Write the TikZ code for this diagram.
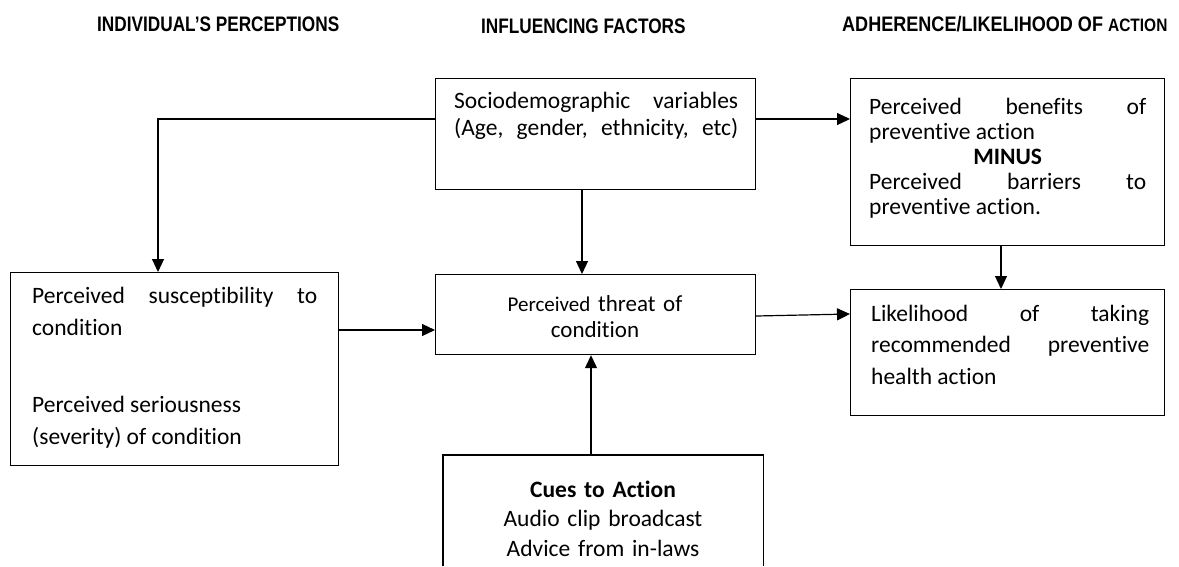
\documentclass[tikz,border=0pt]{standalone}
\usepackage{fontspec}
\setmainfont{Carlito}[Ligatures=NoCommon]
\newfontfamily\hdrfont[FakeStretch=0.82]{Liberation Sans}
\newfontfamily\hdrfontw[FakeStretch=0.86]{Liberation Sans}
\usetikzlibrary{arrows.meta}
\setlength{\parindent}{0pt}
\begin{document}
\begin{tikzpicture}[x=1pt,y=-1pt,
  box/.style={draw, line width=1.2pt, inner sep=0pt, anchor=north west},
  openbox/.style={draw=none, inner sep=0pt, anchor=north west},
  txt/.style={inner sep=0pt, anchor=base west, align=justify, font=\fontsize{23.5}{29}\selectfont},
  ctxt/.style={inner sep=0pt, anchor=base, text width=300pt, align=center, font=\fontsize{23.5}{29.5}\selectfont},
  hdr/.style={inner sep=0pt, anchor=base west, font=\hdrfont\bfseries\fontsize{21}{25}\selectfont},
  arr/.style={line width=1.2pt, -{Triangle[length=13pt,width=12pt]}},
]
\useasboundingbox (0,0) rectangle (1179,566);
\fill[white] (0,0) rectangle (1179,566);

% headers
\node[hdr] (h1) at (97,31) {INDIVIDUAL’S PERCEPTIONS};
\node[hdr] (h2) at (481,33) {INFLUENCING FACTORS};
\node[hdr, font=\hdrfontw\bfseries\fontsize{21}{25}\selectfont] (h3) at (842,31)
  {ADHERENCE/LIKELIHOOD OF {\fontsize{18}{20}\selectfont ACTION}};

% boxes
\node[box, minimum width=320pt, minimum height=111pt] (socio) at (435,78) {};
\node[box, minimum width=314pt, minimum height=167pt] (right) at (850,78) {};
\node[box, minimum width=328pt, minimum height=193pt] (left) at (10,272) {};
\node[box, minimum width=320pt, minimum height=80pt] (threat) at (435,274) {};
\node[box, minimum width=314pt, minimum height=126pt] (lik) at (850,289) {};
\node[openbox, minimum width=320pt, minimum height=111pt] (cues) at (443,455) {};
\draw[line width=1.2pt] (cues.south west) -- (cues.north west) -- (cues.north east) -- (cues.south east);

% texts
\node[txt, text width=284pt, font=\fontsize{23.5}{27}\selectfont] (socioT) at (454,108)
  {Sociodemographic variables\linebreak
   \makebox[\linewidth][s]{(Age, gender, ethnicity, etc)}};
\node[txt, text width=277pt, font=\fontsize{23.5}{25}\selectfont] (rightT) at (869,114)
  {Perceived benefits of\linebreak preventive action\par
   {\centering\bfseries MINUS\par}
   Perceived barriers to\linebreak preventive action.};
\node[txt, text width=285pt, font=\fontsize{23.5}{32.5}\selectfont] (leftT) at (32,303)
  {Perceived susceptibility to\linebreak condition\par\vspace{44pt}
   Perceived seriousness\newline (severity) of condition};
\node[ctxt, font=\fontsize{23}{26}\selectfont] (threatT) at (595,311)
  {{\fontsize{21}{26}\selectfont Perceived} threat of\\condition};
\node[txt, text width=278pt, font=\fontsize{23.5}{31.5}\selectfont] (likT) at (871,321)
  {Likelihood of taking\linebreak recommended preventive\linebreak health action};
\node[ctxt] (cuesT) at (603,497)
  {\textbf{Cues to Action}\\Audio clip broadcast\\Advice from in-laws};

% connectors
\draw[arr] ([yshift=-41pt]socio.north west) -| ([xshift=148pt]left.north west);
\draw[arr] ([xshift=147pt]socio.south west) -- ([xshift=147pt]threat.north west);
\draw[arr] ([yshift=-41pt]socio.north east) -- ([yshift=-41pt]right.north west);
\draw[arr] ([xshift=151pt]right.south west) -- ([xshift=151pt]lik.north west);
\draw[arr] ([yshift=-58pt]left.north east) -- ([yshift=-56pt]threat.north west);
\draw[arr] ([yshift=-42pt]threat.north east) -- ([yshift=-25pt]lik.north west);
\draw[arr] ([xshift=148pt]cues.north west) -- ([xshift=156pt]threat.south west);
\end{tikzpicture}
\end{document}
